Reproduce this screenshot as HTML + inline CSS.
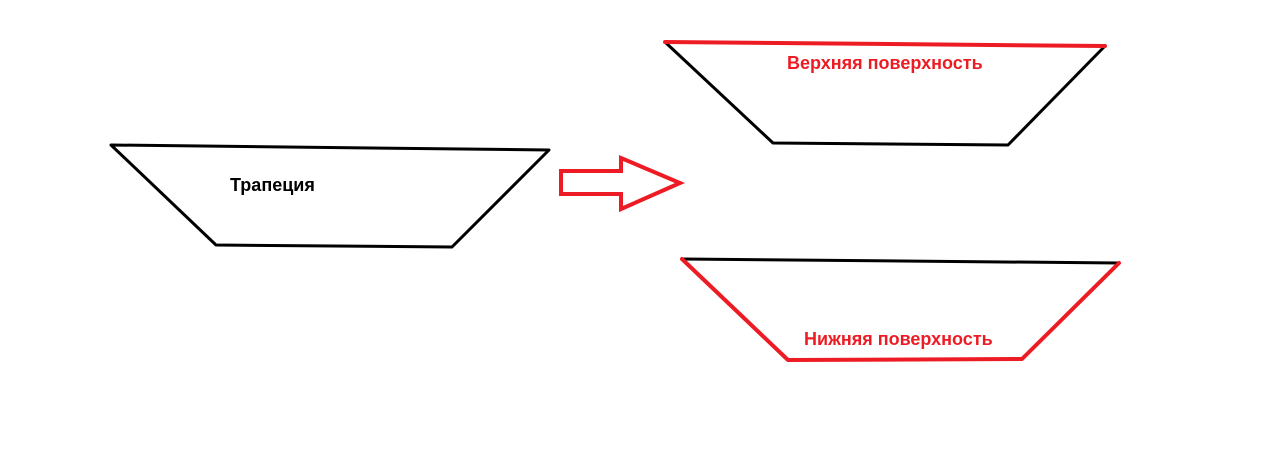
<!DOCTYPE html>
<html><head><meta charset="utf-8"><style>
html,body{margin:0;padding:0;background:#fff;}
svg{display:block;}
text{font-family:"Liberation Sans",sans-serif;font-weight:bold;font-size:18px;}
</style></head><body>
<svg width="1280" height="451" viewBox="0 0 1280 451" xmlns="http://www.w3.org/2000/svg">
<polygon points="111,145 549,150 452,247 216,245" fill="none" stroke="#000" stroke-width="3" stroke-linejoin="round"/>
<text x="230" y="191" fill="#000">Трапеция</text>
<polygon points="561,171 621,171 621,158 680,183 621,209 621,194 561,194" fill="none" stroke="#ed1c24" stroke-width="4" stroke-linejoin="miter"/>
<polyline points="665,42 773,143 1008,145 1105,46" fill="none" stroke="#000" stroke-width="3" stroke-linejoin="round"/>
<line x1="665" y1="42" x2="1105" y2="46" stroke="#ed1c24" stroke-width="4" stroke-linecap="round"/>
<text x="787" y="69" fill="#ed1c24">Верхняя поверхность</text>
<line x1="682" y1="259" x2="1119" y2="263" stroke="#000" stroke-width="3"/>
<polyline points="682,259 788,360 1022,359 1119,263" fill="none" stroke="#ed1c24" stroke-width="4" stroke-linejoin="round" stroke-linecap="round"/>
<text x="804" y="345" fill="#ed1c24">Нижняя поверхность</text>
</svg>
</body></html>
